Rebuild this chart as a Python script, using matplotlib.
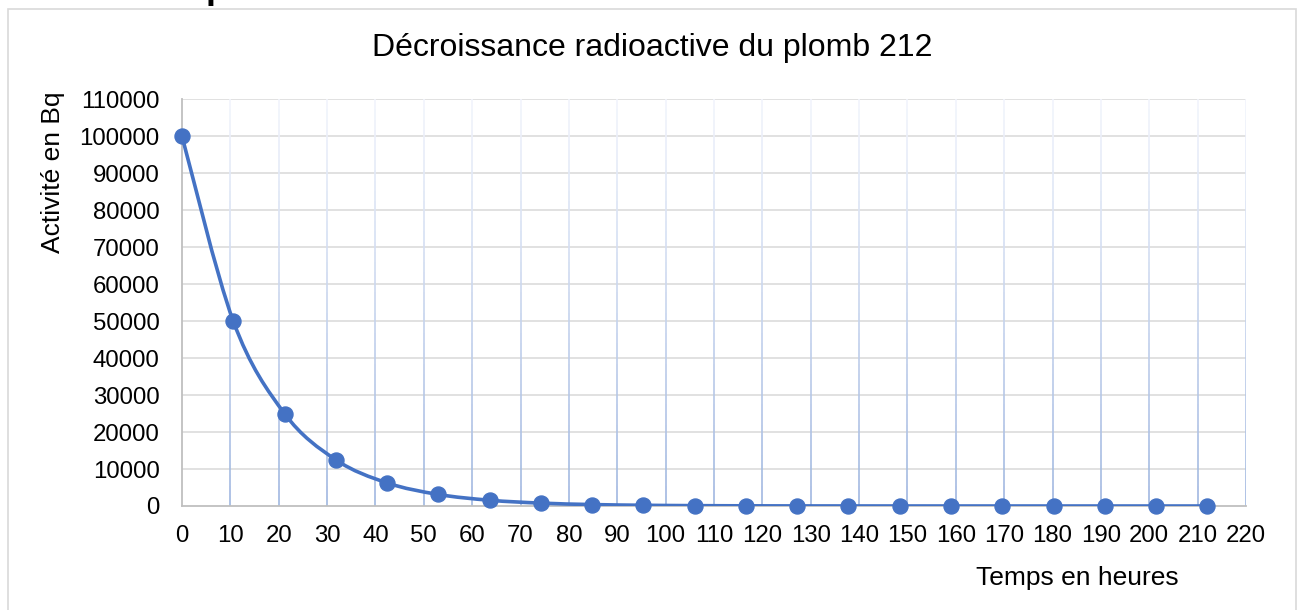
import matplotlib

matplotlib.use("Agg")
import matplotlib.pyplot as plt
import numpy as np
from matplotlib.collections import LineCollection
from matplotlib.colors import to_rgb
from matplotlib.patches import PathPatch, Rectangle
from matplotlib.path import Path

plt.rcParams["font.family"] = ["Liberation Sans", "DejaVu Sans"]

# measured points: time (h) and activity (Bq)
temps = [0, 10.6, 21.2, 31.8, 42.4, 53, 63.6, 74.2, 84.8, 95.4, 106,
         116.6, 127.2, 137.8, 148.4, 159, 169.6, 180.2, 190.8, 201.4, 212]
activite = [100000, 50000, 25000, 12500, 6250, 3125, 1563, 781, 391, 195, 98,
            49, 24, 12, 6, 3, 1.5, 0.76, 0.38, 0.19, 0.1]

x_ticks = list(range(0, 221, 10))
y_ticks = list(range(0, 110001, 10000))

BLUE = "#4472C4"
W, H = 1302, 610


def smooth_path(xs, ys):
    # Excel-like smoothed line: cubic bezier with catmull-rom control points
    pts = np.column_stack([xs, ys]).astype(float)
    n = len(pts)
    verts = [pts[0]]
    codes = [Path.MOVETO]
    for i in range(n - 1):
        p0 = pts[i - 1] if i > 0 else pts[i]
        p1 = pts[i]
        p2 = pts[i + 1]
        p3 = pts[i + 2] if i + 2 < n else pts[i + 1]
        c1 = p1 + (p2 - p0) / 6.0
        c2 = p2 - (p3 - p1) / 6.0
        verts += [c1, c2, p2]
        codes += [Path.CURVE4] * 3
    return Path(verts, codes)


fig = plt.figure(figsize=(W / 100, H / 100), dpi=100)
ax = fig.add_axes([182 / W, 1 - 506 / H, (1246 - 182) / W, (506 - 99.3) / H])

# chart border
fig.patches.append(Rectangle((8 / W, -0.05), (1296 - 8) / W, 1.05 - 9 / H,
                             transform=fig.transFigure, fill=False,
                             edgecolor="#d9d9d9", linewidth=1.2))
# clipped heading above the chart (only the descender shows)
fig.text(206 / W, 1 - 6 / H, "p", fontsize=26, fontweight="bold",
         ha="left", va="bottom", color="black")

ax.set_xlim(0, 220)
ax.set_ylim(0, 110000)

# horizontal gridlines
for yv in y_ticks[1:]:
    ax.axhline(yv, color="#d9d9d9", linewidth=1.1, zorder=1)

# vertical gridlines fading towards the top
top_c = np.array(to_rgb("#f2f5fc"))
bot_c = np.array(to_rgb("#9fb6e0"))
n_seg = 40
segs, cols = [], []
edges = np.linspace(0, 110000, n_seg + 1)
for xv in x_ticks[1:]:
    for k in range(n_seg):
        segs.append([(xv, edges[k]), (xv, edges[k + 1])])
        f = (k + 0.5) / n_seg
        cols.append(bot_c * (1 - f) + top_c * f)
ax.add_collection(LineCollection(segs, colors=cols, linewidths=1.2, zorder=1))

ax.add_patch(PathPatch(smooth_path(temps, activite), facecolor="none",
                       edgecolor=BLUE, linewidth=2.6, zorder=3,
                       capstyle="round"))
ax.plot(temps, activite, linestyle="none", marker="o", markersize=10.8,
        color=BLUE, zorder=4, clip_on=False)

ax.set_xticks(x_ticks)
ax.set_yticks(y_ticks)
ax.tick_params(length=0, labelsize=17.3, colors="black")
ax.tick_params(axis="y", pad=16)
ax.tick_params(axis="x", pad=14)
for side in ["top", "right"]:
    ax.spines[side].set_visible(False)
for side in ["left", "bottom"]:
    ax.spines[side].set_color("#bfbfbf")
    ax.spines[side].set_linewidth(1.3)
    ax.spines[side].set_zorder(2)

fig.text(652 / W, 1 - 48 / H, "Décroissance radioactive du plomb 212",
         fontsize=23, ha="center", va="center")
fig.text(53 / W, 1 - 172 / H, "Activité en Bq", fontsize=19,
         rotation=90, ha="center", va="center")
fig.text(1077 / W, 1 - 578 / H, "Temps en heures", fontsize=19,
         ha="center", va="center")

fig.savefig("out.png", dpi=100)
